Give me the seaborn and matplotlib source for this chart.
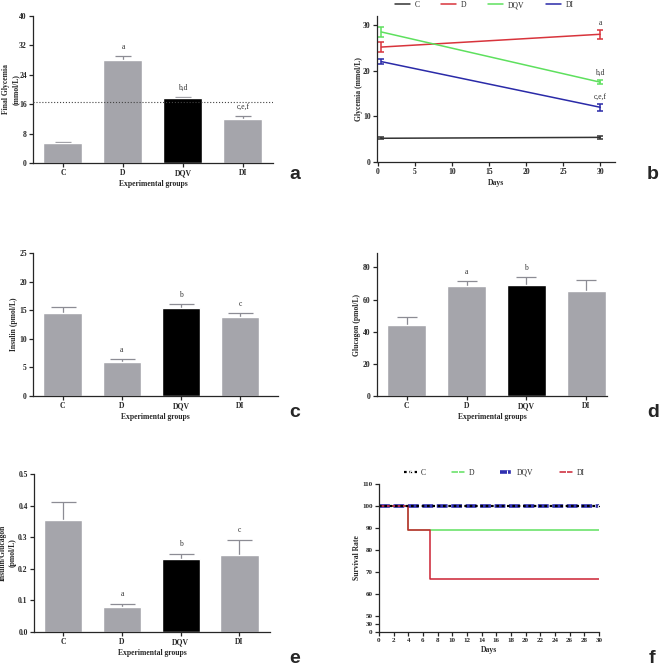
import numpy as np
import pandas as pd
import matplotlib
matplotlib.use("Agg")
import matplotlib.pyplot as plt
import seaborn as sns

groups = ["C", "D", "DQV", "DI"]

# (a) final glycemia
glyc_final = [5.5, 28.0, 17.7, 12.0]
glyc_final_err = [0.2, 1.0, 0.3, 0.8]
glyc_final_labels = ["", "a", "b,d", "c,e,f"]
glyc_threshold = 16.7

# (b) glycemia over time
glyc_days = [0.5, 30]
glyc_series = {
    "C": [5.2, 5.4],
    "D": [25.2, 28.0],
    "DQV": [28.5, 17.5],
    "DI": [22.0, 12.0],
}
glyc_series_err = {
    "C": [0.2, 0.3],
    "D": [1.0, 1.0],
    "DQV": [1.0, 0.5],
    "DI": [0.6, 0.8],
}
glyc_end_labels = ["", "a", "b,d", "c,e,f"]

# (c) insulin
insulin = [14.6, 6.0, 15.4, 13.8]
insulin_err = [1.0, 0.5, 0.7, 0.8]
insulin_labels = ["", "a", "b", "c"]

# (d) glucagon
glucagon = [44.5, 68.5, 68.8, 65.5]
glucagon_err = [4.5, 3.2, 5.0, 6.5]
glucagon_labels = ["", "a", "b", ""]

# (e) insulin / glucagon
ratio = [0.355, 0.078, 0.231, 0.245]
ratio_err = [0.058, 0.012, 0.016, 0.047]
ratio_labels = ["", "a", "b", "c"]

# (f) survival, step points
surv_days = {"C": [0, 30], "D": [0, 4, 30], "DQV": [0, 30], "DI": [0, 4, 7, 30]}
surv_rate = {"C": [100, 100], "D": [100, 88.9, 88.9], "DQV": [100, 100],
             "DI": [100, 88.9, 66.7, 66.7]}
surv_yticks = [0, 30, 50, 60, 70, 80, 90, 100, 110]

sns.set_style("ticks")
plt.rcParams["font.family"] = ["Liberation Serif", "DejaVu Serif"]
plt.rcParams["font.weight"] = "bold"
plt.rcParams["axes.labelweight"] = "bold"
plt.rcParams["axes.linewidth"] = 0.9

GREY = "#a4a4ac"
ERR = "#8c8c94"
bar_colors = {"C": GREY, "D": GREY, "DQV": "black", "DI": GREY}
line_colors_b = {"C": "#333333", "D": "#d8343c", "DQV": "#5ee05e", "DI": "#2a2aa8"}
TICK_FS = 5.5
LAB_FS = 5.5

fig = plt.figure(figsize=(6.6, 6.65), dpi=100)


def style_axes(ax, label_x, tick_fs=TICK_FS):
    sns.despine(ax=ax)
    ax.tick_params(length=3, width=0.9, labelsize=tick_fs, pad=1.5)
    for lab in ax.get_xticklabels() + ax.get_yticklabels():
        lab.set_fontweight("bold")
    ax.yaxis.set_label_coords(label_x, 0.5)


def bar_panel(rect, values, errs, labels, ylim, ticks, xmax, ylabel, capsize, label_x):
    ax = fig.add_axes(rect)
    df = pd.DataFrame({"group": groups, "value": values})
    sns.barplot(data=df, x="group", y="value", hue="group", palette=bar_colors,
                legend=False, width=0.65, errorbar=None, ax=ax, zorder=2)
    x = np.arange(len(groups))
    ax.errorbar(x, values, yerr=errs, fmt="none", ecolor=ERR, elinewidth=0.9,
                capsize=capsize, capthick=0.9, zorder=1)
    for i, lab in enumerate(labels):
        if lab:
            ax.text(x[i], values[i] + errs[i] + ylim * 0.035, lab, ha="center",
                    va="bottom", fontsize=LAB_FS, fontweight="normal", color="#333333")
    ax.set_xlim(-0.5, xmax)
    ax.set_ylim(0, ylim)
    ax.set_yticks(ticks)
    ax.set_xlabel("Experimental groups", fontsize=LAB_FS, labelpad=2)
    ax.set_ylabel(ylabel, fontsize=LAB_FS, linespacing=1.3)
    style_axes(ax, label_x)
    return ax


# (a)
ax_a = bar_panel([0.050, 0.7549, 0.3636, 0.2211], glyc_final, glyc_final_err,
                 glyc_final_labels, 40, np.arange(0, 41, 8), 3.5,
                 "Final Glycemia\n(mmol/L)", 6, -0.055)
ax_a.axhline(glyc_threshold, ls=":", color="#444444", lw=0.8, zorder=3)

# (b)
ax_b = fig.add_axes([0.5712, 0.7564, 0.3606, 0.2195])
rows = []
for g in groups:
    for d, v in zip(glyc_days, glyc_series[g]):
        rows.append({"day": d, "value": v, "group": g})
df_b = pd.DataFrame(rows)
sns.lineplot(data=df_b, x="day", y="value", hue="group", hue_order=groups,
             palette=line_colors_b, lw=1.1, ax=ax_b)
for i, g in enumerate(groups):
    ax_b.errorbar(glyc_days, glyc_series[g], yerr=glyc_series_err[g], fmt="none",
                  ecolor=line_colors_b[g], elinewidth=1.1, capsize=2.5, capthick=1.1)
    if glyc_end_labels[i]:
        ax_b.text(glyc_days[-1], glyc_series[g][-1] + glyc_series_err[g][-1] + 0.6,
                  glyc_end_labels[i], ha="center", va="bottom", fontsize=LAB_FS,
                  fontweight="normal", color="#333333")
ax_b.set_xlim(-0.1, 32)
ax_b.set_ylim(0, 32)
ax_b.set_xticks(np.arange(0, 31, 5))
ax_b.set_yticks([0, 10, 20, 30])
ax_b.set_xlabel("Days", fontsize=LAB_FS, labelpad=2)
ax_b.set_ylabel("Glycemia (mmol/L)", fontsize=LAB_FS)
sns.move_legend(ax_b, "center", bbox_to_anchor=(0.45, 1.075), ncol=4, frameon=False,
                title=None, fontsize=LAB_FS, handlelength=2, columnspacing=2.8,
                handletextpad=0.6)
for t in ax_b.get_legend().get_texts():
    t.set_fontweight("normal")
style_axes(ax_b, -0.059)

# (c)
bar_panel([0.050, 0.4045, 0.3712, 0.2150], insulin, insulin_err, insulin_labels,
          25, np.arange(0, 26, 5), 3.64, "Insulin (pmol/L)", 9, -0.061)

# (d)
bar_panel([0.5712, 0.4045, 0.3485, 0.2150], glucagon, glucagon_err, glucagon_labels,
          89, np.arange(0, 81, 20), 3.35, "Glucagon (pmol/L)", 7.5, -0.068)

# (e)
ax_e = bar_panel([0.0515, 0.0496, 0.3576, 0.2376], ratio, ratio_err, ratio_labels,
                 0.5, np.arange(0, 0.51, 0.1), 3.52, "Insulin/Glucagon\n(pmol/L)", 9, -0.075)
ax_e.yaxis.set_major_formatter(matplotlib.ticker.FormatStrFormatter("%.1f"))

# (f)
ax_f = fig.add_axes([0.5742, 0.0496, 0.3333, 0.2226])
knots_in = [0, 30, 50, 110]
knots_out = [0, 8, 16, 148]
ax_f.set_yscale("function", functions=(lambda y: np.interp(y, knots_in, knots_out),
                                       lambda y: np.interp(y, knots_out, knots_in)))
surv_colors = {"C": "black", "D": "#5fe05f", "DQV": "#2f2fb0", "DI": "#cc2233"}
surv_style = {
    "C": dict(lw=1.6, ls=(0, (1.2, 1.2)), marker="o", ms=1.8),
    "D": dict(lw=1.1, marker="|", ms=3),
    "DQV": dict(lw=2.6, ls=(0, (3, 1)), marker="|", ms=3),
    "DI": dict(lw=1.1, marker="|", ms=3),
}
for g in ["D", "DQV", "DI", "C"]:
    df_f = pd.DataFrame({"day": surv_days[g], "rate": surv_rate[g]})
    sns.lineplot(data=df_f, x="day", y="rate", drawstyle="steps-post",
                 color=surv_colors[g], label=g, ax=ax_f, markevery=[-1],
                 **surv_style[g])
handles, labels = ax_f.get_legend_handles_labels()
order = [labels.index(g) for g in groups]
leg = ax_f.legend([handles[i] for i in order], groups, loc="center",
                  bbox_to_anchor=(0.525, 1.075), ncol=4, frameon=False,
                  fontsize=LAB_FS, handlelength=1.6, columnspacing=3.4,
                  handletextpad=0.6)
for t in leg.get_texts():
    t.set_fontweight("normal")
ax_f.set_xlim(0, 30)
ax_f.set_ylim(0, 110)
ax_f.set_xticks(np.arange(0, 31, 2))
ax_f.yaxis.set_major_locator(matplotlib.ticker.FixedLocator(surv_yticks))
ax_f.yaxis.set_major_formatter(matplotlib.ticker.FixedFormatter([str(t) for t in surv_yticks]))
ax_f.yaxis.set_minor_locator(matplotlib.ticker.NullLocator())
ax_f.set_xlabel("Days", fontsize=LAB_FS, labelpad=2)
ax_f.set_ylabel("Survival Rate", fontsize=LAB_FS)
style_axes(ax_f, -0.08, tick_fs=5)

# panel letters
for letter, (px, py) in zip("abcdef", [(0.447, 0.737), (0.989, 0.737), (0.447, 0.379),
                                      (0.989, 0.379), (0.447, 0.0105), (0.988, 0.0105)]):
    fig.text(px, py, letter, ha="center", va="center", fontsize=14,
             fontweight="bold", family="Liberation Sans")

fig.savefig("out.png", dpi=100)
